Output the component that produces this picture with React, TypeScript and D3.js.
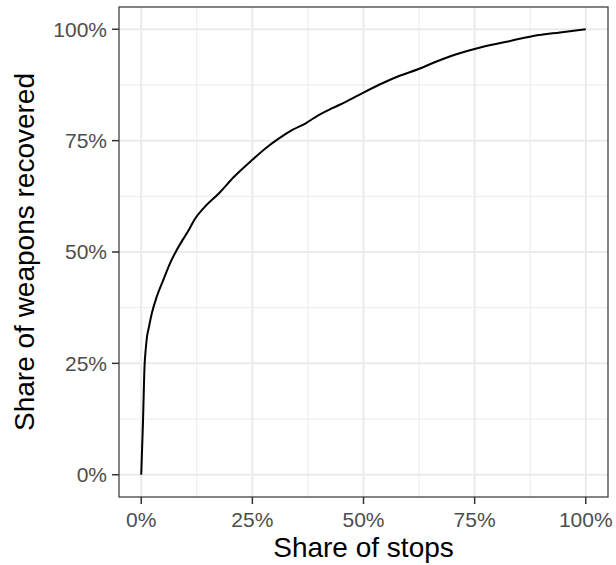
import React from "react";
import * as d3 from "d3";

const stopsShare = [0, 0.004, 0.0075, 0.01, 0.013, 0.017, 0.024, 0.035, 0.05, 0.065, 0.079, 0.095, 0.109, 0.12, 0.14, 0.175, 0.21, 0.25, 0.28, 0.31, 0.34, 0.37, 0.4, 0.43, 0.46, 0.5, 0.545, 0.58, 0.627, 0.66, 0.694, 0.754, 0.822, 0.882, 0.942, 1.0];
const weaponsShare = [0, 0.12, 0.245, 0.28, 0.31, 0.33, 0.363, 0.4, 0.438, 0.475, 0.503, 0.53, 0.553, 0.573, 0.598, 0.632, 0.67, 0.707, 0.733, 0.755, 0.774, 0.789, 0.808, 0.823, 0.837, 0.858, 0.88, 0.895, 0.912, 0.926, 0.939, 0.957, 0.972, 0.985, 0.993, 1.0];
const majorTicks = [0, 0.25, 0.5, 0.75, 1];
const minorTicks = [0.125, 0.375, 0.625, 0.875];
const tickLabels = ["0%", "25%", "50%", "75%", "100%"];
const xTitle = "Share of stops";
const yTitle = "Share of weapons recovered";

export default function App() {
  const W = 616, H = 565;
  const left = 119, right = 608, top = 7, bottom = 497;
  const x = d3.scaleLinear().domain([-0.05, 1.05]).range([left, right]);
  const y = d3.scaleLinear().domain([-0.05, 1.05]).range([bottom, top]);
  const pts = stopsShare.map((s, i) => [s, weaponsShare[i]] as [number, number]);
  const line = d3.line<[number, number]>().x(d => x(d[0])).y(d => y(d[1])).curve(d3.curveMonotoneX);
  const font = "Liberation Sans, Arial, Helvetica, sans-serif";
  return (
    <svg width={W} height={H} style={{ position: "absolute", left: 0, top: 0 }}>
      <rect x={0} y={0} width={W} height={H} fill="#fff" />
      <rect x={left} y={top} width={right - left} height={bottom - top} fill="#fff" />
      {minorTicks.map(t => (
        <g key={"m" + t}>
          <line x1={x(t)} x2={x(t)} y1={top} y2={bottom} stroke="#EBEBEB" strokeWidth={1} />
          <line x1={left} x2={right} y1={y(t)} y2={y(t)} stroke="#EBEBEB" strokeWidth={1} />
        </g>
      ))}
      {majorTicks.map(t => (
        <g key={"M" + t}>
          <line x1={x(t)} x2={x(t)} y1={top} y2={bottom} stroke="#EBEBEB" strokeWidth={2} />
          <line x1={left} x2={right} y1={y(t)} y2={y(t)} stroke="#EBEBEB" strokeWidth={2} />
        </g>
      ))}
      <path d={line(pts) || ""} fill="none" stroke="#000" strokeWidth={2} strokeLinejoin="round" />
      <rect x={left} y={top} width={right - left} height={bottom - top} fill="none" stroke="#333333" strokeWidth={1.2} />
      {majorTicks.map((t, i) => (
        <g key={"xt" + t}>
          <line x1={x(t)} x2={x(t)} y1={bottom} y2={bottom + 7} stroke="#333333" strokeWidth={1.5} />
          <text x={x(t)} y={527} textAnchor="middle" fontFamily={font} fontSize={21} fill="#4D4D4D">{tickLabels[i]}</text>
        </g>
      ))}
      {majorTicks.map((t, i) => (
        <g key={"yt" + t}>
          <line x1={left - 7} x2={left} y1={y(t)} y2={y(t)} stroke="#333333" strokeWidth={1.5} />
          <text x={left - 12} y={y(t)} dy="0.35em" textAnchor="end" fontFamily={font} fontSize={21} fill="#4D4D4D">{tickLabels[i]}</text>
        </g>
      ))}
      <text x={(left + right) / 2} y={556.5} textAnchor="middle" fontFamily={font} fontSize={28} fill="#000">{xTitle}</text>
      <text transform={`translate(33.5,${(top + bottom) / 2}) rotate(-90)`} textAnchor="middle" fontFamily={font} fontSize={28} fill="#000">{yTitle}</text>
    </svg>
  );
}
